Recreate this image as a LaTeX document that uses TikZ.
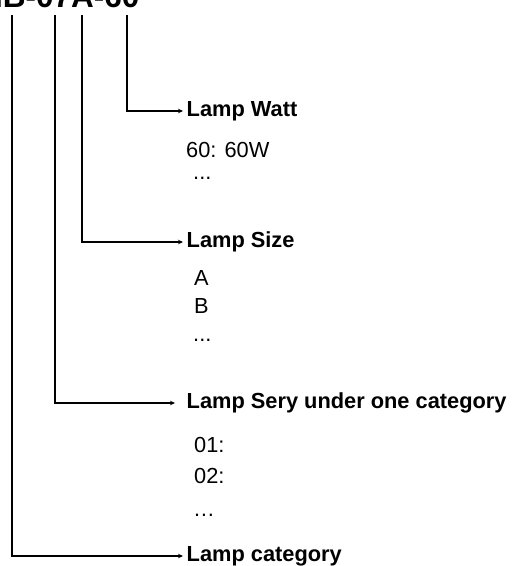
\documentclass[tikz,border=0pt]{standalone}
\usepackage{fontspec}
\setmainfont{Liberation Sans}
\usetikzlibrary{arrows.meta}
\tikzset{
  lbl/.style={anchor=west, inner xsep=3.5pt, inner ysep=0pt, font=\fontsize{21.8}{26}\selectfont\bfseries},
  item/.style={anchor=base west, inner sep=0pt, font=\fontsize{21.8}{26}\selectfont},
  conn/.style={line width=1.6pt, -{Stealth[length=5pt,width=4.5pt]}}
}
\begin{document}
\begin{tikzpicture}[x=1pt,y=-1pt]
    \def\P{...}
    \useasboundingbox (0,0) rectangle (513,566);
    \node[anchor=base west, inner sep=0pt, font=\fontsize{31.5}{34}\selectfont\bfseries] (code) at (-6,7) {IB-07A-60};
    % drop x / arrow y / name / shorten / label
    \foreach \x/\y/\n/\s/\t in {127/111/watt/0/Lamp Watt, 82/242/size/0/Lamp Size,%
    55/403/sery/8/Lamp Sery under one category, 12/556/cat/0/Lamp category}
    {
    \coordinate (t\n) at (\x,15);
    \node[lbl] (\n) at (183,\y) {\t};
    \draw[conn, shorten >=\s pt] (t\n) |- (\n.west);
    }
    % values under each label
    \foreach \t/\x/\y [count=\i] in {60: 60W/186/157, \P/193/179,%
    A/194/285, B/194/313, \P/193/341,%
    01:/194/452, 02:/194/483, …/193/516}
    {
    \node[item] (v\i) at (\x,\y) {\t};
    }
\end{tikzpicture}
\end{document}
